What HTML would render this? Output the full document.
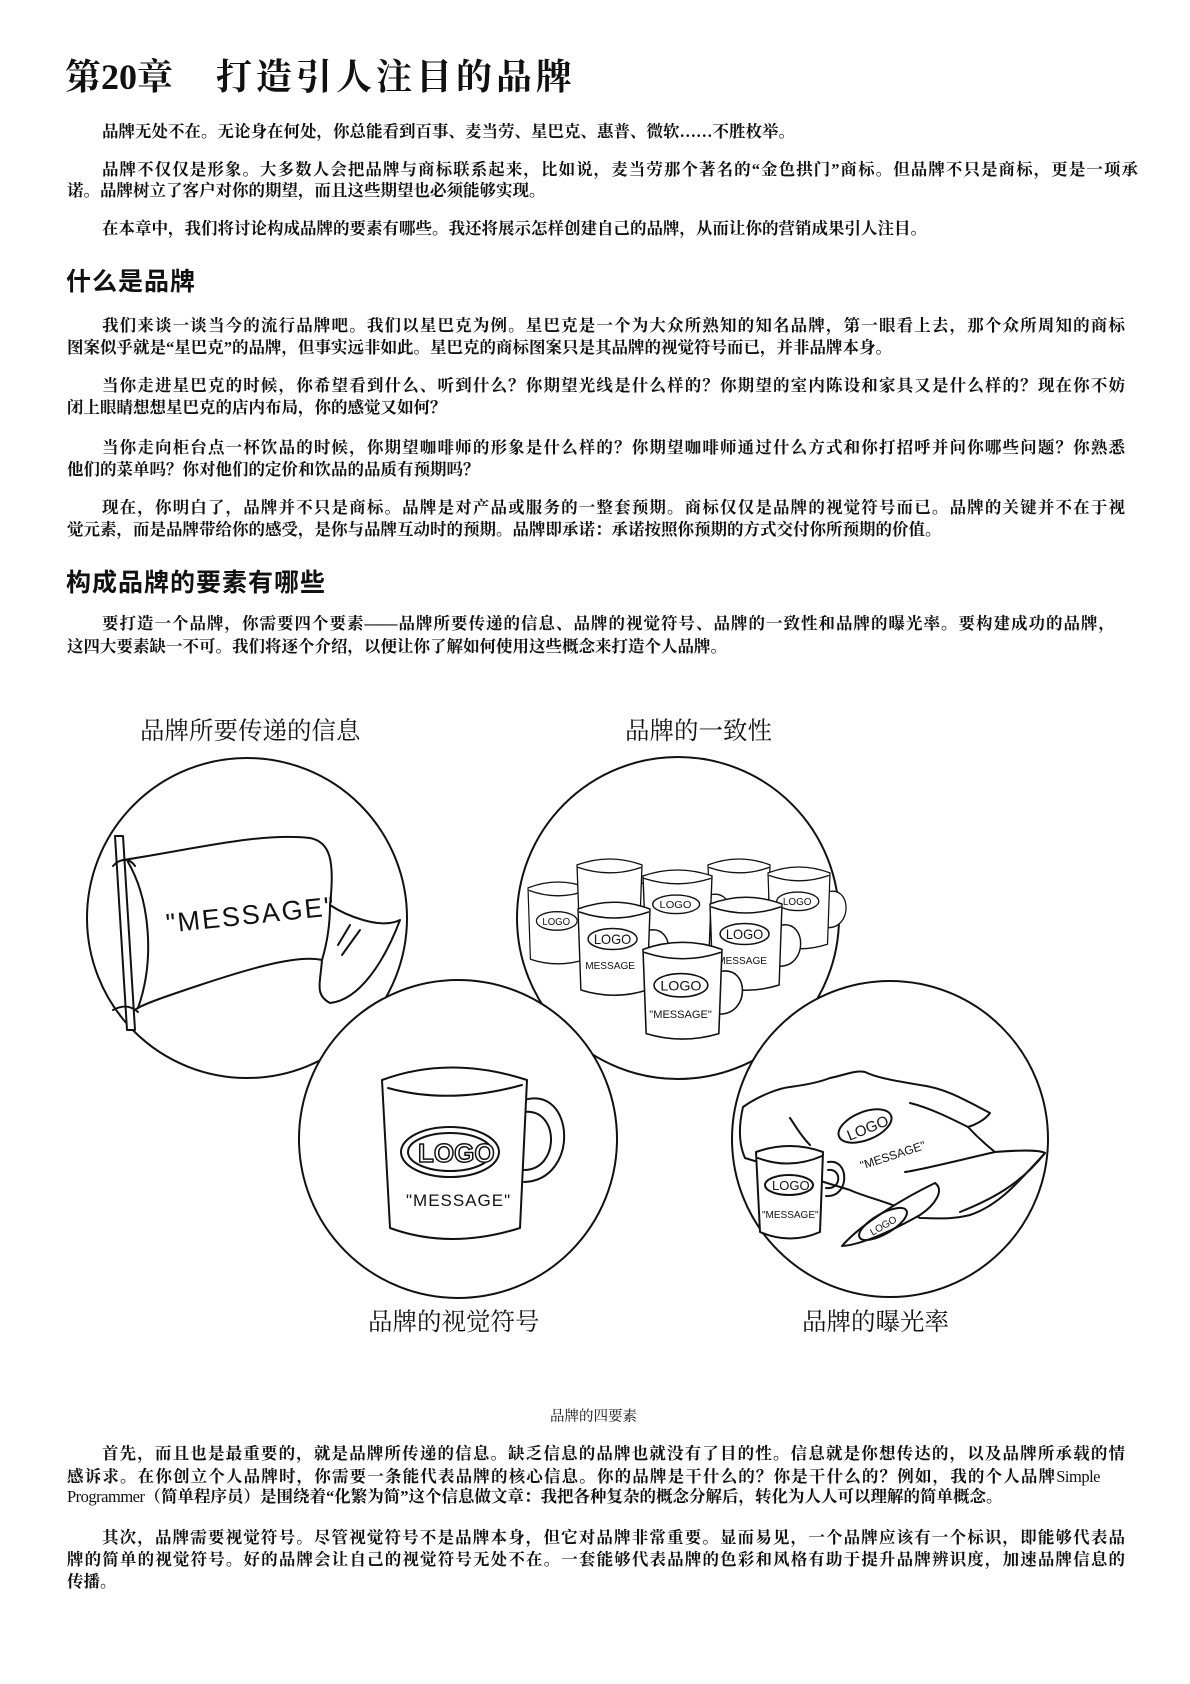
<!DOCTYPE html>
<html><head><meta charset="utf-8">
<style>
html,body{margin:0;padding:0;background:#fff;}
body{width:1190px;height:1684px;position:relative;overflow:hidden;color:#111;}
.t{position:absolute;left:67px;white-space:nowrap;font-family:"Liberation Serif","Noto Serif CJK SC",serif;font-weight:700;font-size:16.5px;line-height:22px;height:22px;}
.j{text-align:justify;text-align-last:justify;white-space:normal;}
.i{text-indent:35px;}
.n{font-weight:400;letter-spacing:-0.5px;}
.h{position:absolute;left:66px;font-family:"Liberation Sans","Noto Sans CJK SC",sans-serif;font-weight:700;font-size:25px;line-height:30px;letter-spacing:1px;white-space:nowrap;}
.lab{position:absolute;font-family:"Liberation Serif","Noto Serif CJK SC",serif;font-size:24.5px;line-height:30px;white-space:nowrap;}
svg text{font-family:"Liberation Sans",sans-serif;}
</style></head><body>

<div style="position:absolute;left:65px;top:57px;font-family:'Liberation Serif','Noto Serif CJK SC',serif;font-weight:700;font-size:36px;line-height:40px;white-space:nowrap;"><span>第20章</span><span style="display:inline-block;width:43px"></span><span style="letter-spacing:4px">打造引人注目的品牌</span></div>

<div class="t i" style="top:121px">品牌无处不在。无论身在何处，你总能看到百事、麦当劳、星巴克、惠普、微软……不胜枚举。</div>
<div class="t i j" style="top:159px;width:1071px">品牌不仅仅是形象。大多数人会把品牌与商标联系起来，比如说，麦当劳那个著名的“金色拱门”商标。但品牌不只是商标，更是一项承</div>
<div class="t" style="top:180px">诺。品牌树立了客户对你的期望，而且这些期望也必须能够实现。</div>
<div class="t i" style="top:218px">在本章中，我们将讨论构成品牌的要素有哪些。我还将展示怎样创建自己的品牌，从而让你的营销成果引人注目。</div>

<div class="h" style="top:267px">什么是品牌</div>

<div class="t i j" style="top:315px;width:1058px">我们来谈一谈当今的流行品牌吧。我们以星巴克为例。星巴克是一个为大众所熟知的知名品牌，第一眼看上去，那个众所周知的商标</div>
<div class="t" style="top:337px">图案似乎就是“星巴克”的品牌，但事实远非如此。星巴克的商标图案只是其品牌的视觉符号而已，并非品牌本身。</div>
<div class="t i j" style="top:375px;width:1058px">当你走进星巴克的时候，你希望看到什么、听到什么？你期望光线是什么样的？你期望的室内陈设和家具又是什么样的？现在你不妨</div>
<div class="t" style="top:397px">闭上眼睛想想星巴克的店内布局，你的感觉又如何？</div>
<div class="t i j" style="top:437px;width:1058px">当你走向柜台点一杯饮品的时候，你期望咖啡师的形象是什么样的？你期望咖啡师通过什么方式和你打招呼并问你哪些问题？你熟悉</div>
<div class="t" style="top:459px">他们的菜单吗？你对他们的定价和饮品的品质有预期吗？</div>
<div class="t i j" style="top:497px;width:1058px">现在，你明白了，品牌并不只是商标。品牌是对产品或服务的一整套预期。商标仅仅是品牌的视觉符号而已。品牌的关键并不在于视</div>
<div class="t" style="top:519px">觉元素，而是品牌带给你的感受，是你与品牌互动时的预期。品牌即承诺：承诺按照你预期的方式交付你所预期的价值。</div>

<div class="h" style="top:568px">构成品牌的要素有哪些</div>

<div class="t i j" style="top:613px;width:1048px">要打造一个品牌，你需要四个要素——品牌所要传递的信息、品牌的视觉符号、品牌的一致性和品牌的曝光率。要构建成功的品牌，</div>
<div class="t" style="top:636px">这四大要素缺一不可。我们将逐个介绍，以便让你了解如何使用这些概念来打造个人品牌。</div>

<div class="lab" style="left:140px;top:717px">品牌所要传递的信息</div>
<div class="lab" style="left:625px;top:717px">品牌的一致性</div>
<div class="lab" style="left:368px;top:1308px">品牌的视觉符号</div>
<div class="lab" style="left:802px;top:1308px">品牌的曝光率</div>

<svg width="1190" height="1684" style="position:absolute;left:0;top:0" viewBox="0 0 1190 1684" fill="none" stroke="#111" stroke-width="2" stroke-linecap="round" stroke-linejoin="round">
<circle cx="247" cy="918" r="160" fill="#fff"/>
<path d="M115,836 L123,836 L135,1030 L127,1030 Z" fill="#fff"/>
<path d="M123,860 C190,850 260,832 310,838 C330,842 335,860 330,905 C345,915 380,930 400,920 C385,960 360,1000 330,1003 C315,995 320,985 322,960 C300,955 260,965 200,985 C170,995 140,1005 135,1010"/>
<path d="M128,862 C150,900 155,960 138,1008"/>
<path d="M322,960 C325,950 330,930 330,905"/>
<path d="M338,945 L350,925 M342,955 L360,930"/>
<path d="M113,866 C120,858 130,858 135,866 M113,1010 C122,1005 130,1005 138,1012"/>
<text x="165" y="925" font-size="27" fill="#111" stroke="none" transform="rotate(-6 240 910)" letter-spacing="2">"MESSAGE"</text>

<circle cx="678" cy="918" r="161" fill="#fff"/>
<g fill="#fff">
<g transform="translate(528,880) scale(0.6,0.66)"><path d="M0,12 Q50,-6 100,12 L96,120 Q50,134 4,120 Z"/><path d="M2,16 Q50,32 98,16"/><ellipse cx="48" cy="62" rx="34" ry="14"/><text x="24" y="68" font-size="16" fill="#111" stroke="none">LOGO</text></g>
<g transform="translate(577,857) scale(0.65,0.66)"><path d="M100,40 C135,35 135,95 97,95"/><path d="M0,12 Q50,-6 100,12 L96,120 Q50,134 4,120 Z"/><path d="M2,16 Q50,32 98,16"/></g>
<g transform="translate(708,857) scale(0.62,0.66)"><path d="M100,40 C135,35 135,95 97,95"/><path d="M0,12 Q50,-6 100,12 L96,120 Q50,134 4,120 Z"/><path d="M2,16 Q50,32 98,16"/></g>
<g transform="translate(643,868) scale(0.69,0.66)"><path d="M100,40 C135,35 135,95 97,95"/><path d="M0,12 Q50,-6 100,12 L96,120 Q50,134 4,120 Z"/><path d="M2,16 Q50,32 98,16"/><ellipse cx="48" cy="55" rx="34" ry="14"/><text x="24" y="61" font-size="16" fill="#111" stroke="none">LOGO</text></g>
<g transform="translate(768,865) scale(0.62,0.66)"><path d="M100,40 C135,35 135,95 97,95"/><path d="M0,12 Q50,-6 100,12 L96,120 Q50,134 4,120 Z"/><path d="M2,16 Q50,32 98,16"/><ellipse cx="48" cy="55" rx="34" ry="14"/><text x="24" y="61" font-size="16" fill="#111" stroke="none">LOGO</text></g>
<g transform="translate(578,900) scale(0.72,0.75)"><path d="M100,40 C135,35 135,95 97,95"/><path d="M0,12 Q50,-6 100,12 L96,120 Q50,134 4,120 Z"/><path d="M2,16 Q50,32 98,16"/><ellipse cx="48" cy="52" rx="34" ry="14"/><text x="22" y="59" font-size="18" fill="#111" stroke="none">LOGO</text><text x="10" y="92" font-size="14" fill="#111" stroke="none">MESSAGE</text></g>
<g transform="translate(710,895) scale(0.72,0.75)"><path d="M100,40 C135,35 135,95 97,95"/><path d="M0,12 Q50,-6 100,12 L96,120 Q50,134 4,120 Z"/><path d="M2,16 Q50,32 98,16"/><ellipse cx="48" cy="52" rx="34" ry="14"/><text x="22" y="59" font-size="18" fill="#111" stroke="none">LOGO</text><text x="10" y="92" font-size="14" fill="#111" stroke="none">MESSAGE</text></g>
<g transform="translate(643,940) scale(0.79,0.78)"><path d="M100,40 C135,35 135,95 97,95"/><path d="M0,12 Q50,-6 100,12 L96,120 Q50,134 4,120 Z"/><path d="M2,16 Q50,32 98,16"/><ellipse cx="48" cy="58" rx="34" ry="15"/><text x="22" y="65" font-size="18" fill="#111" stroke="none">LOGO</text><text x="8" y="100" font-size="14" fill="#111" stroke="none">"MESSAGE"</text></g>
</g>

<circle cx="458" cy="1139" r="159" fill="#fff"/>
<path d="M524,1100 C575,1085 580,1180 524,1182 M524,1112 C560,1108 560,1170 524,1170"/>
<path d="M382,1080 Q450,1055 527,1080 L520,1228 Q450,1250 390,1228 Z" fill="#fff"/>
<path d="M388,1088 Q450,1105 522,1085"/>
<ellipse cx="450" cy="1152" rx="49" ry="25"/>
<ellipse cx="450" cy="1152" rx="42" ry="19"/>
<text x="418" y="1162" font-size="26" font-weight="bold" fill="#fff" stroke="#111" stroke-width="1.5">LOGO</text>
<text x="406" y="1206" font-size="17" fill="#111" stroke="none" letter-spacing="1">"MESSAGE"</text>

<circle cx="890" cy="1139" r="158" fill="#fff"/>
<path d="M743,1107 C760,1095 780,1088 790,1087 C805,1085 820,1082 830,1078 C845,1075 855,1070 865,1072 C875,1077 890,1080 920,1085 C945,1088 965,1100 990,1113 C985,1120 975,1125 968,1127 C980,1140 990,1148 995,1152 C1020,1150 1040,1150 1045,1153 C1020,1180 1000,1205 970,1215 C950,1220 935,1218 920,1218 L898,1207 C880,1200 860,1195 850,1190 L745,1158 C737,1140 740,1120 743,1107 Z" fill="#fff"/>
<path d="M995,1152 C960,1160 920,1170 905,1172 M1045,1153 C1020,1185 990,1200 960,1212"/>
<path d="M790,1118 C795,1125 800,1135 810,1145 M910,1103 C930,1108 950,1118 968,1127"/>
<ellipse cx="865" cy="1126" rx="28" ry="14" transform="rotate(-22 865 1126)"/>
<text x="845" y="1134" font-size="15" fill="#111" stroke="none" transform="rotate(-22 865 1126)">LOGO</text>
<text x="857" y="1160" font-size="12" fill="#111" stroke="none" transform="rotate(-18 890 1150)">"MESSAGE"</text>
<path d="M842,1246 C860,1225 900,1200 935,1183 C945,1190 935,1205 920,1215 C890,1232 860,1245 842,1246 Z" fill="#fff"/>
<ellipse cx="883" cy="1224" rx="27" ry="10" transform="rotate(-30 883 1224)"/>
<text x="868" y="1229" font-size="10" fill="#111" stroke="none" transform="rotate(-30 883 1224)">LOGO</text>
<path d="M828,1162 C850,1158 850,1198 826,1196 M828,1170 C842,1168 842,1190 826,1188"/>
<path d="M756,1152 Q790,1140 823,1152 L820,1232 Q790,1245 760,1232 Z" fill="#fff"/>
<path d="M758,1158 Q790,1170 822,1156"/>
<ellipse cx="789" cy="1185" rx="24" ry="10"/>
<text x="772" y="1190" font-size="13" fill="#111" stroke="none">LOGO</text>
<text x="762" y="1218" font-size="10" fill="#111" stroke="none">"MESSAGE"</text>
</svg>

<div style="position:absolute;left:550px;top:1407px;font-family:'Liberation Serif','Noto Serif CJK SC',serif;font-size:14.5px;line-height:20px;white-space:nowrap;">品牌的四要素</div>

<div class="t i j" style="top:1443px;width:1058px">首先，而且也是最重要的，就是品牌所传递的信息。缺乏信息的品牌也就没有了目的性。信息就是你想传达的，以及品牌所承载的情</div>
<div class="t j" style="top:1466px;width:1033px">感诉求。在你创立个人品牌时，你需要一条能代表品牌的核心信息。你的品牌是干什么的？你是干什么的？例如，我的个人品牌<span class="n">Simple</span></div>
<div class="t" style="top:1486px"><span class="n">Programmer</span>（简单程序员）是围绕着“化繁为简”这个信息做文章：我把各种复杂的概念分解后，转化为人人可以理解的简单概念。</div>
<div class="t i j" style="top:1527px;width:1058px">其次，品牌需要视觉符号。尽管视觉符号不是品牌本身，但它对品牌非常重要。显而易见，一个品牌应该有一个标识，即能够代表品</div>
<div class="t j" style="top:1549px;width:1058px">牌的简单的视觉符号。好的品牌会让自己的视觉符号无处不在。一套能够代表品牌的色彩和风格有助于提升品牌辨识度，加速品牌信息的</div>
<div class="t" style="top:1571px">传播。</div>

</body></html>
